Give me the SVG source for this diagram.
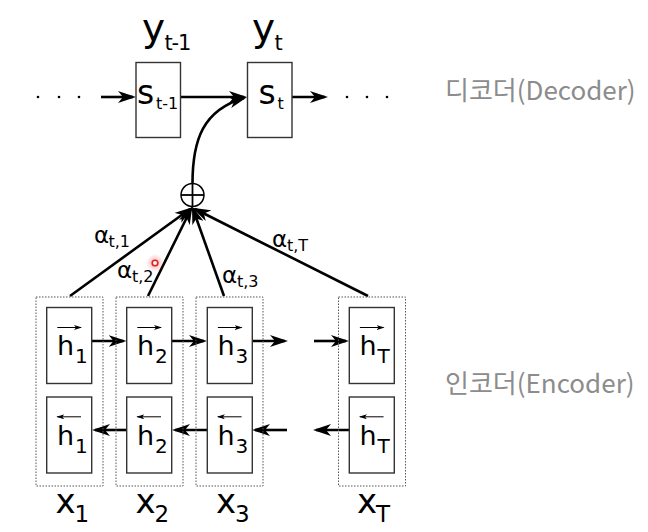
<svg xmlns="http://www.w3.org/2000/svg" width="648" height="532" viewBox="0 0 648 532">
<defs>
<marker id="ah" markerUnits="userSpaceOnUse" viewBox="0 0 18 12" refX="15" refY="6" markerWidth="18" markerHeight="12" orient="auto">
<path d="M0,0 L18,6 L0,12 L5,6 z" fill="#000"/>
</marker>
<marker id="sm" markerUnits="userSpaceOnUse" viewBox="0 0 8 5" refX="7" refY="2.5" markerWidth="8" markerHeight="5" orient="auto">
<path d="M0,0 L8,2.5 L0,5 L2,2.5 z" fill="#000"/>
</marker>
<radialGradient id="glow">
<stop offset="0" stop-color="#ff3030" stop-opacity="0.55"/>
<stop offset="0.6" stop-color="#ff5050" stop-opacity="0.2"/>
<stop offset="1" stop-color="#ff5050" stop-opacity="0"/>
</radialGradient>
</defs>
<style>
text{font-family:"DejaVu Sans","Liberation Sans",sans-serif;fill:#000}
.box{fill:#fff;stroke:#333;stroke-width:1.4}
.outer{fill:none;stroke:#555;stroke-width:1;stroke-dasharray:1.5 1.5}
.arr{fill:none;stroke:#000;stroke-width:2.6;marker-end:url(#ah)}
.vec{fill:none;stroke:#000;stroke-width:1;marker-end:url(#sm)}
.h{font-size:27px}
.hs{font-size:20px}
.x{font-size:34px}
.xs{font-size:23px}
.y{font-size:39px}
.ys{font-size:21px;letter-spacing:-1.2px}
.s{font-size:33px}
.ss{font-size:16px}
.a{font-size:23px}
.as{font-size:16px}
.kr{font-family:"Noto Sans CJK KR","Noto Sans",sans-serif;font-size:26px;fill:#8c8c8c}
.dot{fill:#000}
</style>
<rect width="648" height="532" fill="#fff"/>

<g id="connectors">
<line class="arr" x1="101" y1="97" x2="133" y2="97"/>
<line class="arr" x1="180.5" y1="97" x2="244" y2="97"/>
<line class="arr" x1="292" y1="97" x2="325" y2="97"/>
<path class="arr" d="M192.5,183.5 C192.5,140 203,110 244,98"/>
<line class="arr" x1="70" y1="296" x2="190" y2="209"/>
<line class="arr" x1="148" y1="296" x2="191" y2="209"/>
<line class="arr" x1="224" y1="296" x2="193" y2="209"/>
<line class="arr" x1="368" y1="296" x2="195" y2="209"/>
<line class="arr" x1="91.7" y1="341" x2="123.5" y2="341"/>
<line class="arr" x1="171.7" y1="341" x2="204" y2="341"/>
<line class="arr" x1="251.7" y1="341" x2="285" y2="341"/>
<line class="arr" x1="314" y1="341" x2="346" y2="341"/>
<line class="arr" x1="126.7" y1="430" x2="95" y2="430"/>
<line class="arr" x1="207.3" y1="430" x2="175" y2="430"/>
<line class="arr" x1="287" y1="430" x2="255" y2="430"/>
<line class="arr" x1="349.3" y1="430" x2="316" y2="430"/>
</g>

<g id="dots-left">
<circle class="dot" cx="38" cy="97" r="1.3"/><circle class="dot" cx="59" cy="97" r="1.3"/><circle class="dot" cx="79" cy="97" r="1.3"/>
</g>
<g id="dots-right">
<circle class="dot" cx="347" cy="97" r="1.3"/><circle class="dot" cx="367" cy="97" r="1.3"/><circle class="dot" cx="387" cy="97" r="1.3"/>
</g>

<g id="s_t-1">
<rect class="box" x="136" y="62.5" width="44.5" height="75"/>
<text x="137" y="103.5" class="s">s</text><text x="156" y="108.5" class="ss">t-1</text>
</g>
<g id="s_t">
<rect class="box" x="247.5" y="62.5" width="44.5" height="75"/>
<text x="258.5" y="103.5" class="s">s</text><text x="277.5" y="108.5" class="ss">t</text>
</g>
<g id="y_t-1">
<text x="142" y="41" class="y">y</text><text x="164.5" y="50" class="ys">t-1</text>
</g>
<g id="y_t">
<text x="252" y="41" class="y">y</text><text x="274.5" y="50" class="ys">t</text>
</g>

<g id="sum">
<circle cx="192.5" cy="195" r="11.5" fill="#fff" stroke="#000" stroke-width="1.5"/>
<line x1="192.5" y1="183.5" x2="192.5" y2="206.5" stroke="#000" stroke-width="1.8"/>
<line x1="181" y1="195" x2="204" y2="195" stroke="#000" stroke-width="1.8"/>
</g>

<g id="alpha-labels">
<text x="94" y="243" class="a">α</text><text x="108.5" y="247" class="as">t,1</text>
<text x="117" y="278" class="a">α</text><text x="132" y="282" class="as">t,2</text>
<text x="222" y="282.5" class="a">α</text><text x="237" y="286.5" class="as">t,3</text>
<text x="272" y="247" class="a">α</text><text x="287" y="251" class="as">t,T</text>
</g>

<g id="enc1">
<rect class="outer" x="36" y="297" width="67" height="189"/>
<rect class="box" x="46.7" y="307.5" width="45" height="76"/>
<rect class="box" x="46.7" y="397" width="45" height="76"/>
<line class="vec" x1="57.3" y1="327.5" x2="81" y2="327.5"/>
<text x="57" y="355" class="h">h</text><text x="75" y="363" class="hs">1</text>
<line class="vec" x1="81" y1="416.8" x2="57.3" y2="416.8"/>
<text x="57" y="445" class="h">h</text><text x="75" y="453" class="hs">1</text>
<text x="55.5" y="513" class="x">x</text><text x="74.5" y="522" class="xs">1</text>
</g>
<g id="enc2">
<rect class="outer" x="116" y="297" width="67" height="189"/>
<rect class="box" x="126.7" y="307.5" width="45" height="76"/>
<rect class="box" x="126.7" y="397" width="45" height="76"/>
<line class="vec" x1="137.3" y1="327.5" x2="161" y2="327.5"/>
<text x="137" y="355" class="h">h</text><text x="155" y="363" class="hs">2</text>
<line class="vec" x1="161" y1="416.8" x2="137.3" y2="416.8"/>
<text x="137" y="445" class="h">h</text><text x="155" y="453" class="hs">2</text>
<text x="135.5" y="513" class="x">x</text><text x="154.5" y="522" class="xs">2</text>
</g>
<g id="enc3">
<rect class="outer" x="196" y="297" width="67" height="189"/>
<rect class="box" x="207.3" y="307.5" width="45" height="76"/>
<rect class="box" x="207.3" y="397" width="45" height="76"/>
<line class="vec" x1="217.9" y1="327.5" x2="241.6" y2="327.5"/>
<text x="217.5" y="355" class="h">h</text><text x="235.5" y="363" class="hs">3</text>
<line class="vec" x1="241.6" y1="416.8" x2="217.9" y2="416.8"/>
<text x="217.5" y="445" class="h">h</text><text x="235.5" y="453" class="hs">3</text>
<text x="216" y="513" class="x">x</text><text x="235" y="522" class="xs">3</text>
</g>
<g id="encT">
<rect class="outer" x="338.5" y="297" width="67" height="189"/>
<rect class="box" x="349.3" y="307.5" width="45" height="76"/>
<rect class="box" x="349.3" y="397" width="45" height="76"/>
<line class="vec" x1="359.9" y1="327.5" x2="383.6" y2="327.5"/>
<text x="359.5" y="355" class="h">h</text><text x="377.5" y="363" class="hs">T</text>
<line class="vec" x1="383.6" y1="416.8" x2="359.9" y2="416.8"/>
<text x="359.5" y="445" class="h">h</text><text x="377.5" y="453" class="hs">T</text>
<text x="357" y="513" class="x">x</text><text x="376" y="522" class="xs">T</text>
</g>

<g id="decoder-label"><text x="445" y="100" class="kr">디코더(Decoder)</text></g>
<g id="encoder-label"><text x="445" y="393" class="kr">인코더(Encoder)</text></g>

<g id="cursor">
<circle cx="155" cy="263" r="9" fill="url(#glow)"/>
<circle cx="155" cy="263" r="2.8" fill="#fff" stroke="#e02020" stroke-width="1.6"/>
</g>
</svg>
